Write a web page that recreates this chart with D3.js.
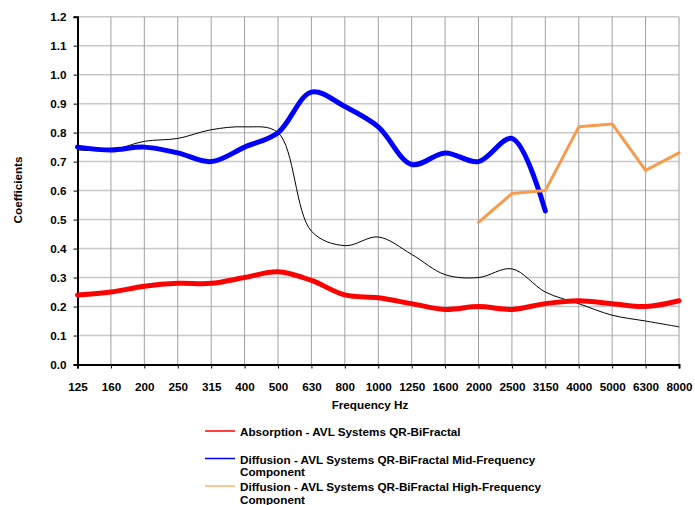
<!DOCTYPE html>
<html>
<head>
<meta charset="utf-8">
<script src="https://cdn.jsdelivr.net/npm/d3@7"></script>
<style>
  body { margin: 0; background: #fff; }
  text { font-family: "Liberation Sans", Arial, sans-serif; font-weight: bold; fill: #000; }
</style>
</head>
<body>
<svg id="chart" width="695" height="505"></svg>
<script>

/*************************** Data ***************************/

var frequencies = ["125","160","200","250","315","400","500","630","800","1000","1250","1600","2000","2500","3150","4000","5000","6300","8000"];

var absorption   = [0.24,0.25,0.27,0.28,0.28,0.30,0.32,0.29,0.24,0.23,0.21,0.19,0.20,0.19,0.21,0.22,0.21,0.20,0.22];
var diffusionMid = [0.75,0.74,0.75,0.73,0.70,0.75,0.80,0.94,0.89,0.82,0.69,0.73,0.70,0.78,0.53];
var diffusionHigh = [null,null,null,null,null,null,null,null,null,null,null,null,0.49,0.59,0.60,0.82,0.83,0.67,0.73];
var referenceLine = [0.74,0.74,0.77,0.78,0.81,0.82,0.80,0.46,0.41,0.44,0.38,0.31,0.30,0.33,0.25,0.21,0.17,0.15,0.13];

var yTicks = [0,0.1,0.2,0.3,0.4,0.5,0.6,0.7,0.8,0.9,1.0,1.1,1.2];

var legendLabels = [
  ["Absorption - AVL Systems QR-BiFractal"],
  ["Diffusion - AVL Systems QR-BiFractal Mid-Frequency", "Component"],
  ["Diffusion - AVL Systems QR-BiFractal High-Frequency", "Component"]
];

/*************************** Scales ***************************/

var svg = d3.select("#chart");

var x = d3.scalePoint().domain(frequencies).range([77.5, 679]);
var y = d3.scaleLinear().domain([0, 1.2]).range([364.5, 16.7]);

var fontSize = "11.7px";

/*************************** Grid ***************************/

var grid = svg.append("g");

grid.selectAll("line.h").data(yTicks.slice(1)).enter().append("line")
  .attr("class", "h")
  .attr("x1", x.range()[0]).attr("x2", x.range()[1])
  .attr("y1", function(d){ return y(d); }).attr("y2", function(d){ return y(d); })
  .style("stroke", "#c8c8c8").style("stroke-width", 1.5);

grid.selectAll("line.v").data(frequencies.slice(1)).enter().append("line")
  .attr("class", "v")
  .attr("x1", function(d){ return x(d); }).attr("x2", function(d){ return x(d); })
  .attr("y1", y(1.2)).attr("y2", y(0))
  .style("stroke", "#a0a0a0").style("stroke-width", 1);

/*************************** Axes ***************************/

var yAxis = svg.append("g")
  .attr("transform", "translate(" + x.range()[0] + ",0)")
  .call(d3.axisLeft(y).tickValues(yTicks).tickFormat(d3.format(".1f")).tickSize(4).tickPadding(7));

var xAxis = svg.append("g")
  .attr("transform", "translate(0," + y(0) + ")")
  .call(d3.axisBottom(x).tickSize(4).tickPadding(14));

[yAxis, xAxis].forEach(function(a){
  a.select(".domain").style("stroke", "#000").style("stroke-width", 2);
  a.selectAll(".tick line").style("stroke", "#000");
  a.selectAll(".tick text").style("font-size", fontSize).style("font-family", "Liberation Sans, Arial, sans-serif").style("font-weight", "bold");
});

svg.append("text")
  .attr("x", 370).attr("y", 409)
  .attr("text-anchor", "middle")
  .style("font-size", fontSize)
  .text("Frequency Hz");

svg.append("text")
  .attr("transform", "translate(22,190) rotate(-90)")
  .attr("text-anchor", "middle")
  .style("font-size", fontSize)
  .text("Coefficients");

/*************************** Lines ***************************/

function drawSeries(values, color, width, curve){
  var pts = [];
  values.forEach(function(v, i){ if(v != null){ pts.push([frequencies[i], v]); } });
  var line = d3.line()
    .x(function(d){ return x(d[0]); })
    .y(function(d){ return y(d[1]); })
    .curve(curve);
  svg.append("path")
    .datum(pts)
    .attr("d", line)
    .style("fill", "none")
    .style("stroke", color)
    .style("stroke-width", width)
    .style("stroke-linejoin", "round")
    .style("stroke-linecap", "round");
}

var smooth = d3.curveCatmullRom.alpha(0.5);

drawSeries(referenceLine, "#000", 1, smooth);
drawSeries(absorption, "#ff0000", 5, smooth);
drawSeries(diffusionMid, "#0000ff", 5, smooth);
drawSeries(diffusionHigh, "#f99b4d", 3, d3.curveLinear);

/*************************** Legend ***************************/

var legendColors = ["#ff0000", "#0000ff", "#ffb070"];
var legendY = [431, 458.5, 486];

var legend = svg.append("g");

legendLabels.forEach(function(lines, i){
  legend.append("line")
    .attr("x1", 205).attr("x2", 235)
    .attr("y1", legendY[i]).attr("y2", legendY[i])
    .style("stroke", legendColors[i]).style("stroke-width", 1.5);
  var t = legend.append("text")
    .attr("x", 240).attr("y", legendY[i] + 5)
    .style("font-size", fontSize);
  lines.forEach(function(s, j){
    t.append("tspan").attr("x", 240).attr("dy", j == 0 ? 0 : 12.5).text(s);
  });
});

</script>
</body>
</html>
